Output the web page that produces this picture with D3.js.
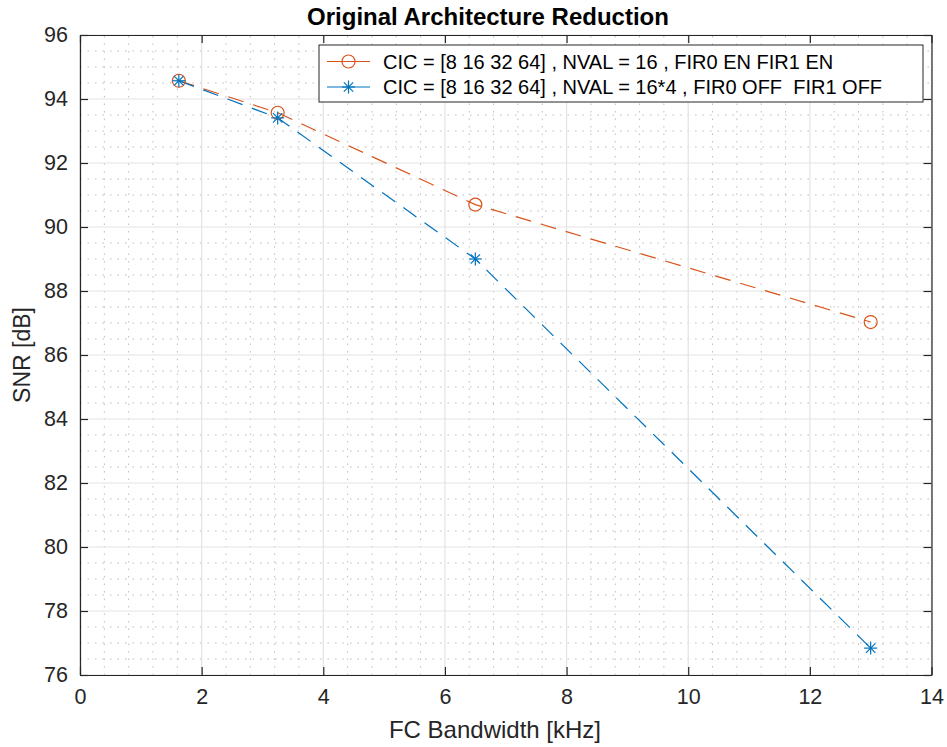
<!DOCTYPE html>
<html>
<head>
<meta charset="utf-8">
<script src="https://cdn.jsdelivr.net/npm/d3@7"></script>
<style>
  html, body { margin: 0; padding: 0; background: #fff; }
  svg { display: block; font-family: "Liberation Sans", Arial, Helvetica, sans-serif; }
</style>
</head>
<body>
<svg id="chart" width="947" height="747"></svg>
<script>
// FC bandwidth (kHz) for each configuration
const bandwidth = [1.625, 3.25, 6.5, 13];
// SNR (dB), FIR stages enabled
const snrFirEn = [94.57, 93.57, 90.7, 87.03];
// SNR (dB), FIR stages bypassed
const snrFirOff = [94.57, 93.41, 89.0, 76.84];
const seriesNames = [
  "CIC = [8 16 32 64] , NVAL = 16 , FIR0 EN FIR1 EN",
  "CIC = [8 16 32 64] , NVAL = 16*4 , FIR0 OFF  FIR1 OFF"
];
const xTicks = [0, 2, 4, 6, 8, 10, 12, 14];
const yTicks = [76, 78, 80, 82, 84, 86, 88, 90, 92, 94, 96];

const W = 947, H = 747;
const m = { left: 80, right: 947 - 931.5, top: 35, bottom: 747 - 675 };
const svg = d3.select("#chart");

const x = d3.scaleLinear().domain([0, 14]).range([m.left, W - m.right]);
const y = d3.scaleLinear().domain([76, 96]).range([H - m.bottom, m.top]);

const colors = ["#D95319", "#0072BD"];
const axisColor = "#262626";

// minor grid (dotted)
const xMinor = d3.range(0, 14.0001, 0.4).filter(v => Math.abs(v / 2 - Math.round(v / 2)) > 1e-6);
const yMinor = d3.range(76, 96.0001, 0.5).filter(v => Math.abs(v / 2 - Math.round(v / 2)) > 1e-6);
const grid = svg.append("g");
grid.selectAll(".xm").data(xMinor).join("line")
  .attr("x1", d => x(d)).attr("x2", d => x(d))
  .attr("y1", y(76)).attr("y2", y(96))
  .attr("stroke", "#bdbdbd").attr("stroke-width", 1).attr("stroke-dasharray", "1.5,6");
grid.selectAll(".ym").data(yMinor).join("line")
  .attr("y1", d => y(d)).attr("y2", d => y(d))
  .attr("x1", x(0)).attr("x2", x(14))
  .attr("stroke", "#bdbdbd").attr("stroke-width", 1).attr("stroke-dasharray", "1.5,6");
// major grid (solid, light)
grid.selectAll(".xg").data(xTicks).join("line")
  .attr("x1", d => x(d)).attr("x2", d => x(d))
  .attr("y1", y(76)).attr("y2", y(96))
  .attr("stroke", "#e3e3e3").attr("stroke-width", 1.2);
grid.selectAll(".yg").data(yTicks).join("line")
  .attr("y1", d => y(d)).attr("y2", d => y(d))
  .attr("x1", x(0)).attr("x2", x(14))
  .attr("stroke", "#e3e3e3").attr("stroke-width", 1.2);

// axes with inward ticks on all four sides
const tickLen = 8;
const axB = svg.append("g").attr("transform", `translate(0,${y(76)})`)
  .call(d3.axisBottom(x).tickValues(xTicks).tickSizeInner(-tickLen).tickSizeOuter(0).tickPadding(14));
const axT = svg.append("g").attr("transform", `translate(0,${y(96)})`)
  .call(d3.axisTop(x).tickValues(xTicks).tickSizeInner(-tickLen).tickSizeOuter(0).tickFormat(""));
const axL = svg.append("g").attr("transform", `translate(${x(0)},0)`)
  .call(d3.axisLeft(y).tickValues(yTicks).tickSizeInner(-tickLen).tickSizeOuter(0).tickPadding(12));
const axR = svg.append("g").attr("transform", `translate(${x(14)},0)`)
  .call(d3.axisRight(y).tickValues(yTicks).tickSizeInner(-tickLen).tickSizeOuter(0).tickFormat(""));
[axB, axT, axL, axR].forEach(a => {
  a.select(".domain").attr("stroke", axisColor).attr("stroke-width", 1.2);
  a.selectAll(".tick line").attr("stroke", axisColor).attr("stroke-width", 1.2);
  a.selectAll(".tick text").attr("fill", axisColor).attr("font-size", 21.5)
    .attr("font-family", "'Liberation Sans', Arial, sans-serif");
});

// data lines + markers
const series = [snrFirEn, snrFirOff];
const line = d3.line().x(d => x(d[0])).y(d => y(d[1]));
series.forEach((vals, i) => {
  const pts = bandwidth.map((b, j) => [b, vals[j]]);
  svg.append("path").datum(pts)
    .attr("d", line).attr("fill", "none")
    .attr("stroke", colors[i]).attr("stroke-width", 1.2)
    .attr("stroke-dasharray", "16,10");
});

function circleMarker(g, cx, cy, color) {
  g.append("circle").attr("cx", cx).attr("cy", cy).attr("r", 6.5)
    .attr("fill", "none").attr("stroke", color).attr("stroke-width", 1.2);
}
function starMarker(g, cx, cy, color) {
  const r = 6.5;
  const s = g.append("g").attr("stroke", color).attr("stroke-width", 1.2);
  s.append("line").attr("x1", cx - r).attr("x2", cx + r).attr("y1", cy).attr("y2", cy);
  s.append("line").attr("x1", cx).attr("x2", cx).attr("y1", cy - r).attr("y2", cy + r);
  const k = r * 0.72;
  s.append("line").attr("x1", cx - k).attr("x2", cx + k).attr("y1", cy - k).attr("y2", cy + k);
  s.append("line").attr("x1", cx - k).attr("x2", cx + k).attr("y1", cy + k).attr("y2", cy - k);
}
const markers = svg.append("g");
bandwidth.forEach((b, j) => circleMarker(markers, x(b), y(snrFirEn[j]), colors[0]));
bandwidth.forEach((b, j) => starMarker(markers, x(b), y(snrFirOff[j]), colors[1]));

// legend
const lg = svg.append("g");
const lgX = 319, lgY = 45, lgW = 604, lgH = 57;
lg.append("rect").attr("x", lgX).attr("y", lgY).attr("width", lgW).attr("height", lgH)
  .attr("fill", "#fff").attr("stroke", axisColor).attr("stroke-width", 1);
seriesNames.forEach((name, i) => {
  const cy = lgY + 16.5 + i * 25.5;
  lg.append("line").attr("x1", lgX + 8).attr("x2", lgX + 51).attr("y1", cy).attr("y2", cy)
    .attr("stroke", colors[i]).attr("stroke-width", 1.2);
  if (i === 0) circleMarker(lg, lgX + 29.5, cy, colors[i]);
  else starMarker(lg, lgX + 29.5, cy, colors[i]);
  lg.append("text").attr("x", lgX + 64).attr("y", cy).attr("dy", "0.36em")
    .attr("font-size", 20).attr("fill", "#000")
    .style("white-space", "pre").text(name);
});

// title and axis labels
svg.append("text").attr("x", 488).attr("y", 25).attr("text-anchor", "middle")
  .attr("font-size", 24).attr("font-weight", "bold").attr("fill", "#000")
  .text("Original Architecture Reduction");
svg.append("text").attr("x", 495).attr("y", 738).attr("text-anchor", "middle")
  .attr("font-size", 24).attr("fill", axisColor).text("FC Bandwidth [kHz]");
svg.append("text").attr("transform", `translate(30,${(y(76) + y(96)) / 2}) rotate(-90)`)
  .attr("text-anchor", "middle").attr("font-size", 23).attr("fill", axisColor).text("SNR [dB]");
</script>
</body>
</html>
